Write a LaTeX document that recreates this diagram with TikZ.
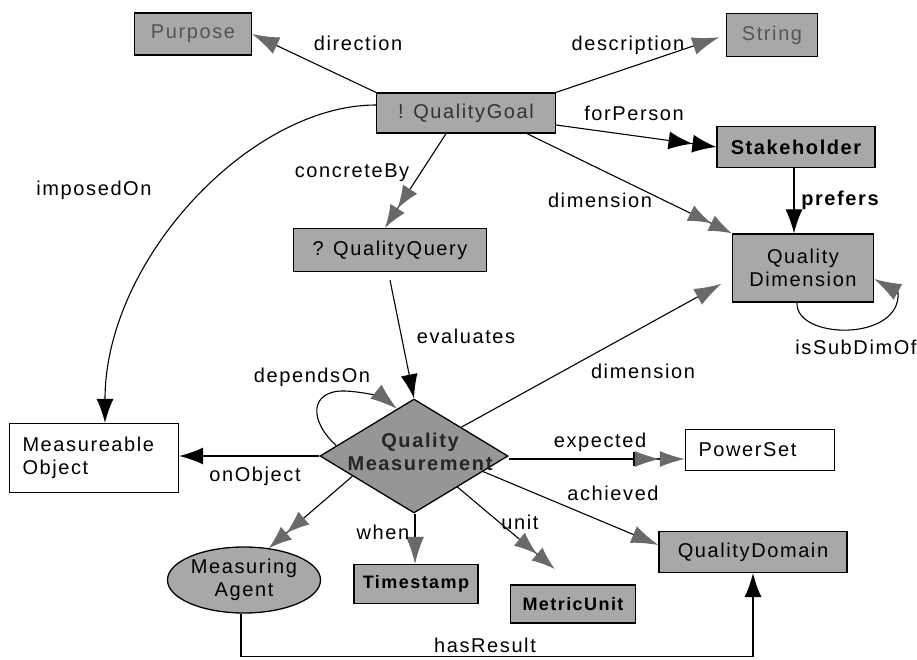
\documentclass[tikz,border=0pt]{standalone}
\usepackage{fontspec}
\setmainfont{Liberation Sans}[LetterSpace=8]
\usetikzlibrary{shapes.geometric,arrows.meta,calc}
\definecolor{boxgray}{RGB}{168,168,168}
\definecolor{diagray}{RGB}{150,150,150}
\definecolor{headgray}{RGB}{105,105,105}
\definecolor{txtgray}{RGB}{85,85,85}
\begin{document}
\begin{tikzpicture}[x=1pt,y=-1pt,font=\fontsize{20}{23}\selectfont,
  box/.style={draw=black,line width=1.3pt,fill=boxgray,inner sep=0pt},
  wbox/.style={draw=black,line width=1.3pt,fill=white,inner sep=0pt},
  conn/.style={draw=black,line width=1.1pt},
  bh/.style={-{Latex[length=24pt,width=17pt]}},
  gh/.style={-{Latex[length=27pt,width=18pt,color=headgray]}},
  bbh/.style={-{Latex[length=24pt,width=18pt]Latex[length=24pt,width=18pt]}},
  ggh/.style={-{Latex[length=23pt,width=17pt,color=headgray]Latex[length=23pt,width=17pt,color=headgray]}},
  lbl/.style={inner sep=0pt},
  bold/.style={font=\fontsize{20}{23}\selectfont\bfseries}]
\useasboundingbox (0,0) rectangle (917,660);

% nodes
\node[box,minimum width=117,minimum height=42,text=txtgray] (purpose) at (193,34) {Purpose};
\node[box,minimum width=91,minimum height=43,text=txtgray] (string) at (772,35) {String};
\node[box,minimum width=179,minimum height=40,text=black!80] (goal) at (466,113) {! QualityGoal};
\node[box,bold,minimum width=158,minimum height=41] (stake) at (796,147) {Stakeholder};
\node[box,minimum width=141,minimum height=68,align=center] (qdim) at (803,268) {Quality\\Dimension};
\node[box,minimum width=193,minimum height=43] (query) at (390,250) {? QualityQuery};
\node[diamond,draw=black,line width=1.3pt,fill=diagray,minimum width=188,minimum height=114,inner sep=0pt] (qm) at (414,456) {};
\node[lbl,bold,align=center,text=black!85] (qmtext) at (420,452) {Quality\\Measurement};
\node[wbox,minimum width=169,minimum height=69,inner xsep=13pt,text width=143,align=left] (mobj) at (94,458) {Measureable\\Object};
\node[wbox,minimum width=149,minimum height=41,inner xsep=13pt,text width=123,align=left] (pset) at (760,450) {PowerSet};
\node[box,minimum width=188,minimum height=41] (qdom) at (753,552) {QualityDomain};
\node[box,minimum width=125,minimum height=38,font=\fontsize{18}{21}\selectfont\bfseries] (metric) at (573,604) {MetricUnit};
\node[box,minimum width=124,minimum height=39,font=\fontsize{18}{21}\selectfont\bfseries] (time) at (416,584) {Timestamp};
\node[ellipse,draw=black,line width=1.3pt,fill=boxgray,minimum width=153,minimum height=66,inner sep=0pt,align=center] (agent) at (244,580) {Measuring\\Agent};

% connectors
\draw[conn,gh] (goal.north west) -- (purpose.east);
\draw[conn,gh,shorten >=7pt] (goal.north east) -- (string.west);
\draw[conn,bbh] ([yshift=-12pt]goal.east) -- (stake.west);
\draw[conn,ggh] ([xshift=61pt]goal.south) -- (qdim.north west);
\draw[conn,ggh] ([xshift=-20pt]goal.south) -- ([xshift=-5pt]query.north);
\draw[conn,bh] ([yshift=8pt]goal.west) .. controls (250,105) and ([xshift=11pt]mobj.north |- 0,260) .. ([xshift=11pt]mobj.north);
\draw[conn,bh] ([xshift=-2pt]stake.south) -- ([xshift=-2pt]stake.south |- qdim.north);
\draw[conn,gh] ([xshift=-6pt]qdim.south) .. controls (795,340) and (902,342) .. (898,292) -- ([yshift=-11pt]qdim.east);
\draw[conn,bh] ([yshift=-8pt]query.south) -- (qm.north);
\draw[conn,gh,shorten >=12pt] (qm.north east) -- ([yshift=-10pt]qdim.west);
\draw[conn,gh] ($(qm.west)!0.18!(qm.north)$) .. controls (308,420) and (310,390) .. (345,391) .. controls (368,392) and (385,399) .. ($(qm.west)!0.82!(qm.north)$);
\draw[conn,bh] (qm.west) -- (qm.west -| mobj.east);
\draw[conn,-{Bar[width=14pt,line width=1.4pt]Latex[length=25pt,width=16pt,color=headgray]Latex[length=25pt,width=16pt,color=headgray]}] ([yshift=-3pt]qm.east) -- ([yshift=-3pt]qm.east -| pset.west);
\draw[conn,gh] ($(qm.east)!0.27!(qm.south)$) -- ([yshift=7pt]qdom.west);
\draw[conn,ggh,shorten >=24pt] ($(qm.east)!0.54!(qm.south)$) -- (metric.north);
\draw[conn,gh] ([xshift=1pt]qm.south) -- ([xshift=1pt]qm.south |- time.north);
\draw[conn,ggh] ($(qm.west)!0.35!(qm.south)$) -- (agent.52);
\draw[conn,bh] ([xshift=-3pt]agent.south) -- ++(0,43) -| (qdom.south);

% labels
\node[lbl] (ldirection) at (358,43) {direction};
\node[lbl] (ldescription) at (628,45) {description};
\node[lbl] (lforperson) at (634,113) {forPerson};
\node[lbl] (ldimension) at (600,200) {dimension};
\node[lbl] (lconcrete) at (352,173) {concreteBy};
\node[lbl] (limposed) at (94,190) {imposedOn};
\node[lbl,bold] (lprefers) at (840,200) {prefers};
\node[lbl] (lsubdim) at (856,347) {isSubDimOf};
\node[lbl] (levaluates) at (466,336) {evaluates};
\node[lbl] (ldimension2) at (643,371) {dimension};
\node[lbl] (ldepends) at (312,377) {dependsOn};
\node[lbl] (lonobject) at (255,476) {onObject};
\node[lbl] (lexpected) at (600,442) {expected};
\node[lbl] (lachieved) at (613,493) {achieved};
\node[lbl] (lunit) at (520,522) {unit};
\node[lbl] (lwhen) at (383,532) {when};
\node[lbl] (lhasresult) at (485,645) {hasResult};
\end{tikzpicture}
\end{document}
